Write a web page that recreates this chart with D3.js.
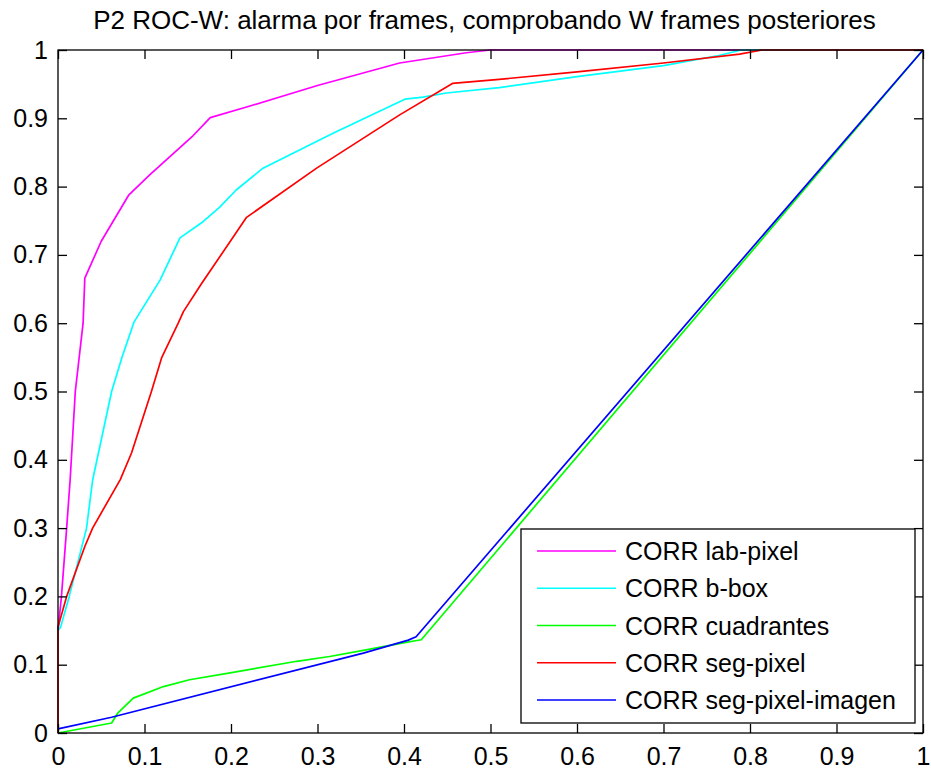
<!DOCTYPE html>
<html>
<head>
<meta charset="utf-8">
<script src="https://cdn.jsdelivr.net/npm/d3@7"></script>
<style>
  html, body { margin: 0; padding: 0; background: #fff; }
  svg { display: block; font-family: "Liberation Sans", Arial, sans-serif; }
</style>
</head>
<body>
<svg id="chart" width="931" height="771"></svg>
<script>
// ---- Data (false alarm rate x, detection rate y) ----
const title = "P2 ROC-W: alarma por frames, comprobando W frames posteriores";
const seriesNames = ["CORR lab-pixel", "CORR b-box", "CORR cuadrantes", "CORR seg-pixel", "CORR seg-pixel-imagen"];
const seriesColors = ["#ff00ff", "#00ffff", "#00ff00", "#ff0000", "#0000ff"];
const xTicks = [0, 0.1, 0.2, 0.3, 0.4, 0.5, 0.6, 0.7, 0.8, 0.9, 1];
const yTicks = [0, 0.1, 0.2, 0.3, 0.4, 0.5, 0.6, 0.7, 0.8, 0.9, 1];

const labPixelX = [0, 0.004, 0.01, 0.014, 0.02, 0.029, 0.031, 0.05, 0.082, 0.106, 0.155, 0.176, 0.222, 0.3, 0.395, 0.472, 0.5, 1];
const labPixelY = [0.15, 0.2, 0.3, 0.37, 0.5, 0.6, 0.666, 0.72, 0.788, 0.817, 0.873, 0.901, 0.918, 0.948, 0.981, 0.996, 1, 1];

const bboxX = [0, 0.003, 0.013, 0.033, 0.04, 0.062, 0.074, 0.088, 0.118, 0.141, 0.166, 0.187, 0.206, 0.237, 0.318, 0.401, 0.422, 0.449, 0.51, 0.6, 0.7, 0.764, 0.79, 1];
const bboxY = [0.15, 0.155, 0.2, 0.3, 0.37, 0.5, 0.55, 0.602, 0.663, 0.725, 0.747, 0.77, 0.795, 0.827, 0.878, 0.928, 0.931, 0.937, 0.945, 0.961, 0.977, 0.992, 1, 1];

const cuadrantesX = [0, 0.062, 0.069, 0.087, 0.122, 0.152, 0.199, 0.276, 0.314, 0.353, 0.399, 0.42, 1];
const cuadrantesY = [0, 0.0146, 0.029, 0.051, 0.068, 0.078, 0.088, 0.105, 0.112, 0.121, 0.132, 0.1365, 1];

const segPixelX = [0, 0, 0.01, 0.031, 0.04, 0.072, 0.085, 0.108, 0.12, 0.139, 0.145, 0.166, 0.218, 0.299, 0.395, 0.456, 0.51, 0.6, 0.7, 0.788, 0.814, 1];
const segPixelY = [0, 0.155, 0.2, 0.273, 0.3, 0.371, 0.41, 0.5, 0.55, 0.6, 0.617, 0.658, 0.755, 0.827, 0.905, 0.951, 0.957, 0.968, 0.981, 0.994, 1, 1];

const segPixelImagenX = [0, 0.062, 0.353, 0.405, 0.414, 1];
const segPixelImagenY = [0.006, 0.023, 0.117, 0.136, 0.141, 1];

const seriesX = [labPixelX, bboxX, cuadrantesX, segPixelX, segPixelImagenX];
const seriesY = [labPixelY, bboxY, cuadrantesY, segPixelY, segPixelImagenY];

// ---- Layout ----
const svg = d3.select("#chart");
const mLeft = 58, mRight = 923, mTop = 50, mBottom = 733;
const x = d3.scaleLinear().domain([0, 1]).range([mLeft, mRight]);
const y = d3.scaleLinear().domain([0, 1]).range([mBottom, mTop]);
const fontSize = 25;

svg.append("rect").attr("x", 0).attr("y", 0).attr("width", 931).attr("height", 771).attr("fill", "#fff");

svg.append("clipPath").attr("id", "clip")
  .append("rect").attr("x", mLeft - 1).attr("y", mTop - 1).attr("width", mRight - mLeft + 2).attr("height", mBottom - mTop + 2);

// Lines
const line = d3.line().x(d => x(d[0])).y(d => y(d[1]));
const plot = svg.append("g").attr("clip-path", "url(#clip)");
seriesX.forEach((xs, i) => {
  const pts = xs.map((v, j) => [v, seriesY[i][j]]);
  plot.append("path").datum(pts)
    .attr("d", line)
    .attr("fill", "none")
    .attr("stroke", seriesColors[i])
    .attr("stroke-width", 1.7)
    .attr("stroke-linejoin", "round");
});

// Axes (box with inward ticks)
const tickLen = 9;
const axisColor = "#000";
const fmt = d => String(+(+d).toFixed(1));
const gx = svg.append("g").attr("transform", `translate(0,${mBottom})`)
  .call(d3.axisBottom(x).tickValues(xTicks).tickSize(-tickLen).tickPadding(14).tickFormat(fmt));
const gxt = svg.append("g").attr("transform", `translate(0,${mTop})`)
  .call(d3.axisTop(x).tickValues(xTicks).tickSize(-tickLen).tickFormat(""));
const gy = svg.append("g").attr("transform", `translate(${mLeft},0)`)
  .call(d3.axisLeft(y).tickValues(yTicks).tickSize(-tickLen).tickPadding(10).tickFormat(fmt));
const gyr = svg.append("g").attr("transform", `translate(${mRight},0)`)
  .call(d3.axisRight(y).tickValues(yTicks).tickSize(-tickLen).tickFormat(""));

[gx, gxt, gy, gyr].forEach(g => {
  g.select(".domain").remove();
  g.selectAll(".tick line").attr("stroke", axisColor).attr("stroke-width", 1.3);
  g.selectAll("text").attr("fill", "#000").style("font-size", fontSize + "px").style("font-family", '"Liberation Sans", Arial, sans-serif');
});
svg.append("rect").attr("x", mLeft).attr("y", mTop).attr("width", mRight - mLeft).attr("height", mBottom - mTop)
  .attr("fill", "none").attr("stroke", axisColor).attr("stroke-width", 1.3);

// Title
svg.append("text")
  .attr("x", (mLeft + mRight) / 2 - 6).attr("y", 29)
  .attr("text-anchor", "middle")
  .style("font-size", "26px")
  .attr("fill", "#000")
  .text(title);

// Legend
const lg = svg.append("g");
const lgX = 521, lgY = 529, lgW = 394, lgH = 194;
lg.append("rect").attr("x", lgX).attr("y", lgY).attr("width", lgW).attr("height", lgH)
  .attr("fill", "#fff").attr("stroke", "#000").attr("stroke-width", 1.3);
const rowY = d3.scaleLinear().domain([0, 4]).range([551, 700]);
seriesNames.forEach((name, i) => {
  const yy = rowY(i);
  lg.append("line").attr("x1", 537).attr("x2", 616).attr("y1", yy).attr("y2", yy)
    .attr("stroke", seriesColors[i]).attr("stroke-width", 1.7);
  lg.append("text").attr("x", 625).attr("y", yy).attr("dy", "0.36em")
    .style("font-size", fontSize + "px").attr("fill", "#000").text(name);
});
</script>
</body>
</html>
